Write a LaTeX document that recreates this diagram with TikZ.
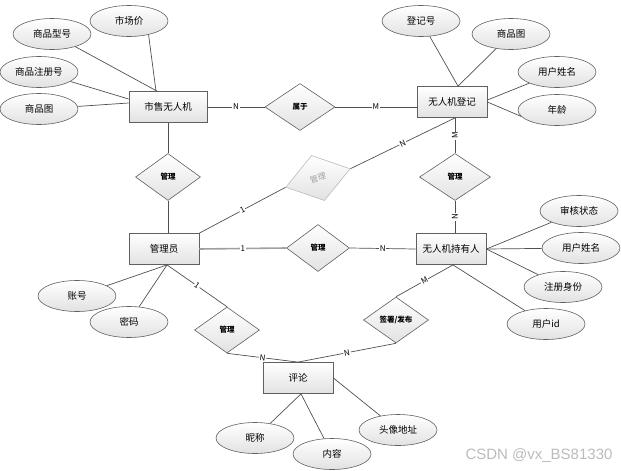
\documentclass[tikz,border=0pt]{standalone}
\usepackage{fontspec}
\newfontfamily\cjk{Noto Sans CJK SC}
\newfontfamily\wmfont{Liberation Sans}
\usetikzlibrary{shapes.geometric,calc}
\definecolor{inkline}{HTML}{505050}
\definecolor{rim}{HTML}{606060}
\definecolor{shade}{HTML}{E2E2E2}
\definecolor{faint}{HTML}{BBBBBB}
\definecolor{dim}{HTML}{A0A0A0}

\begin{document}
\begin{tikzpicture}[
    x=1pt, y=-1pt, font=\cjk\fontsize{9.5}{11}\selectfont, inkline,
    entity/.style={draw=rim, line width=0.8pt, top color=white, bottom color=shade, minimum width=70pt, minimum height=31pt, inner sep=0pt, text=black},
    attr/.style={ellipse, draw=rim, line width=0.6pt, top color=white, bottom color=shade, minimum width=78pt, minimum height=31pt, inner sep=0pt, text=black},
    rel/.style={diamond, draw=rim, line width=0.6pt, top color=white, bottom color=shade, minimum width=65pt, minimum height=47pt, inner sep=0pt, text=black, font=\cjk\fontsize{7.5}{9}\selectfont\bfseries},
    link/.style={draw=inkline, line width=0.7pt},
    card/.style={fill=white, inner sep=0.8pt, font=\cjk\fontsize{8}{9}\selectfont, text=black},
  ]
\useasboundingbox (0,0) rectangle (621,471);

% --- Entities ------------------------------------------------------------
\node[entity, minimum width=78pt] (sale) at (168,107) {市售无人机};
\node[entity] (reg) at (452,102) {无人机登记};
\node[entity] (admin) at (164,249) {管理员};
\node[entity] (owner) at (451,249) {无人机持有人};
\node[entity] (cmt) at (298,378) {评论};

% --- Relations -----------------------------------------------------------
\node[rel, minimum width=70pt] (belong) at (300,107) {属于};
\node[rel] (mgA) at (168,177) {管理};
\node[rel, draw=faint, text=dim, rotate=16, minimum width=67pt, font=\cjk\fontsize{8}{9}\selectfont] (mgB) at (318,178) {管理};
\node[rel, minimum width=71pt] (mgC) at (455,177) {管理};
\node[rel, minimum width=63pt] (mgD) at (318,248) {管理};
\node[rel, minimum height=46pt] (mgE) at (227,330) {管理};
\node[rel, minimum height=46pt] (sign) at (396,320) {签署/发布};

% --- Attributes ----------------------------------------------------------
\node[attr] (model) at (52,34) {商品型号};
\node[attr] (price) at (129,21) {市场价};
\node[attr] (regno) at (39,72) {商品注册号};
\node[attr] (pic) at (39,109) {商品图};
\node[attr] (regid) at (421,21) {登记号};
\node[attr] (regpic) at (511,34) {商品图};
\node[attr] (regname) at (557,72) {用户姓名};
\node[attr] (age) at (557,110) {年龄};
\node[attr] (audit) at (579,211) {审核状态};
\node[attr] (uname) at (581,248) {用户姓名};
\node[attr] (ident) at (563,287) {注册身份};
\node[attr] (uid) at (546,324) {用户id};
\node[attr] (acct) at (77,296) {账号};
\node[attr] (pwd) at (129,322) {密码};
\node[attr] (nick) at (255,438) {昵称};
\node[attr] (body) at (332,454) {内容};
\node[attr] (avatar) at (398,430) {头像地址};

% --- Connectors ----------------------------------------------------------
\draw[link] (price.-35) -- ([xshift=-12pt]sale.north);
\draw[link] (model) -- ([xshift=-11pt]sale.north);
\draw[link] (regno) -- ([yshift=8pt]sale.west);
\draw[link] (pic) -- ([yshift=4pt]sale.west);
\draw[link] (sale.east) -- node[card] {N} (belong.west);
\draw[link] (belong.east) -- node[card] {M} (belong.east -| reg.west);
\draw[link] (sale.south) -- (mgA.north);
\draw[link] (mgA.south) -- (mgA.south |- admin.north);

\draw[link] (regid) -- ([xshift=6pt]reg.north);
\draw[link] (regpic) -- ([xshift=6pt]reg.north);
\draw[link] (regname) -- ([yshift=2pt]reg.east);
\draw[link] (age.190) -- (reg.east);
\draw[link] (mgC.north |- reg.south) -- node[card, rotate=90] {M} (mgC.north);
\draw[link] (mgC.south) -- node[card, rotate=90] {N} (mgC.south |- owner.north);

\draw[link] (admin.north east) -- node[card, sloped] {1} (mgB.west);
\draw[link] (mgB.east) -- node[card, sloped] {N} (mgC.north |- reg.south);
\draw[link, draw=dim, line width=1.6pt] (admin.east) -- node[card] {1} (mgD.west);
\draw[link] (mgD.east) -- node[card] {N} (owner.west);

\draw[link] (audit) -- (owner.east);
\draw[link] (uname) -- (owner.east);
\draw[link] (ident) -- (owner.east);
\draw[link] (uid) -- ([xshift=2pt]owner.south);
\draw[link] ([xshift=2pt]owner.south) -- node[card, sloped] {M} (sign.north);

\draw[link] (acct) -- ([xshift=3pt]admin.south);
\draw[link] (pwd) -- ([xshift=3pt]admin.south);
\draw[link] ([xshift=3pt]admin.south) -- node[card, sloped] {1} (mgE.north);
\draw[link] (mgE.south) -- node[card, sloped] {N} (cmt.north);
\draw[link] (sign.south) -- node[card, sloped] {N} (cmt.north);
\draw[link] (nick) -- ([xshift=3pt]cmt.south);
\draw[link] (body) -- ([xshift=3pt]cmt.south);
\draw[link] (avatar) -- (cmt.east);

% --- Watermark -----------------------------------------------------------
\node[font=\wmfont\fontsize{15}{16}\selectfont, text=faint, anchor=east] (wm) at (616,456) {CSDN @vx\_BS81330};

\end{tikzpicture}
\end{document}
